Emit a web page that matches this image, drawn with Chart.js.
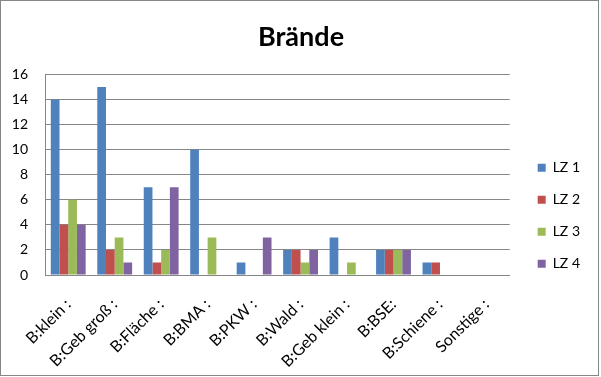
<!DOCTYPE html>
<html><head><meta charset="utf-8">
<script src="https://cdn.jsdelivr.net/npm/chart.js@4/dist/chart.umd.min.js"></script>
<style>html,body{margin:0;padding:0;background:#fff;}</style>
</head><body>
<canvas id="c" width="601" height="377"></canvas>
<script>
const categories = ["B:klein :", "B:Geb groß :", "B:Fläche :", "B:BMA :", "B:PKW :", "B:Wald :", "B:Geb klein :", "B:BSE:", "B:Schiene :", "Sonstige :"];
const lz1 = [14, 15, 7, 10, 1, 2, 3, 2, 1, 0];
const lz2 = [4, 2, 1, 0, 0, 2, 0, 2, 1, 0];
const lz3 = [6, 3, 2, 3, 0, 1, 1, 2, 0, 0];
const lz4 = [4, 1, 7, 0, 3, 2, 0, 2, 0, 0];
const seriesNames = ["LZ 1", "LZ 2", "LZ 3", "LZ 4"];
const seriesColors = ["#4F81BD", "#C0504D", "#9BBB59", "#8064A2"];
const yMin = 0, yMax = 16, yStep = 2;
const titleText = "Brände";

const seriesValues = [lz1, lz2, lz3, lz4];
const FONT = "Lato";

const frame = {
  id: 'frame',
  beforeDraw(chart) {
    const ctx = chart.ctx;
    ctx.save();
    ctx.fillStyle = '#fff';
    ctx.fillRect(0, 0, chart.width, chart.height);
    ctx.restore();
  },
  afterDraw(chart) {
    const ctx = chart.ctx;
    ctx.save();
    ctx.strokeStyle = '#868686';
    ctx.lineWidth = 1;
    ctx.strokeRect(0.5, 0.5, 598, 375);
    ctx.restore();
  }
};

new Chart(document.getElementById('c'), {
  type: 'bar',
  data: {
    labels: categories,
    datasets: seriesNames.map((n, i) => ({
      label: n,
      data: seriesValues[i],
      backgroundColor: seriesColors[i],
      borderWidth: 0,
      categoryPercentage: 0.75,
      barPercentage: 1.0,
      yAxisID: 'y'
    }))
  },
  options: {
    responsive: false,
    animation: false,
    layout: { padding: { left: 12, right: 11, top: 0, bottom: 2 } },
    plugins: {
      title: {
        display: true,
        text: titleText,
        color: '#000',
        font: { family: FONT, size: 27, weight: 'bold' },
        padding: { top: 21, bottom: 21 }
      },
      legend: {
        position: 'right',
        align: 'start',
        title: {
          display: true,
          text: ' ',
          font: { family: FONT, size: 14 },
          padding: { top: 126, bottom: 0 }
        },
        labels: {
          boxWidth: 8,
          boxHeight: 8,
          padding: 18,
          color: '#000',
          font: { family: FONT, size: 14 }
        }
      },
      tooltip: { enabled: false }
    },
    scales: {
      x: {
        grid: { display: false },
        border: { display: true, color: '#868686', width: 1 },
        ticks: {
          autoSkip: false,
          maxRotation: 45,
          minRotation: 45,
          padding: 12,
          color: '#000',
          font: { family: FONT, size: 16 }
        },
        afterFit(s) { s.height = 100; s.paddingLeft = 0; s.paddingRight = 0; }
      },
      y: {
        min: yMin,
        max: yMax,
        grid: { color: '#868686', lineWidth: 1, drawTicks: false },
        border: { display: true, color: '#868686', width: 1 },
        ticks: {
          stepSize: yStep,
          padding: 17,
          color: '#000',
          font: { family: FONT, size: 14 }
        },
        afterFit(s) { s.width = 33; }
      },
      pad: {
        type: 'linear',
        position: 'right',
        display: true,
        grid: { display: false },
        border: { display: false },
        ticks: { display: false },
        afterFit(s) { s.width = 10; }
      }
    }
  },
  plugins: [frame]
});
</script>
</body></html>
